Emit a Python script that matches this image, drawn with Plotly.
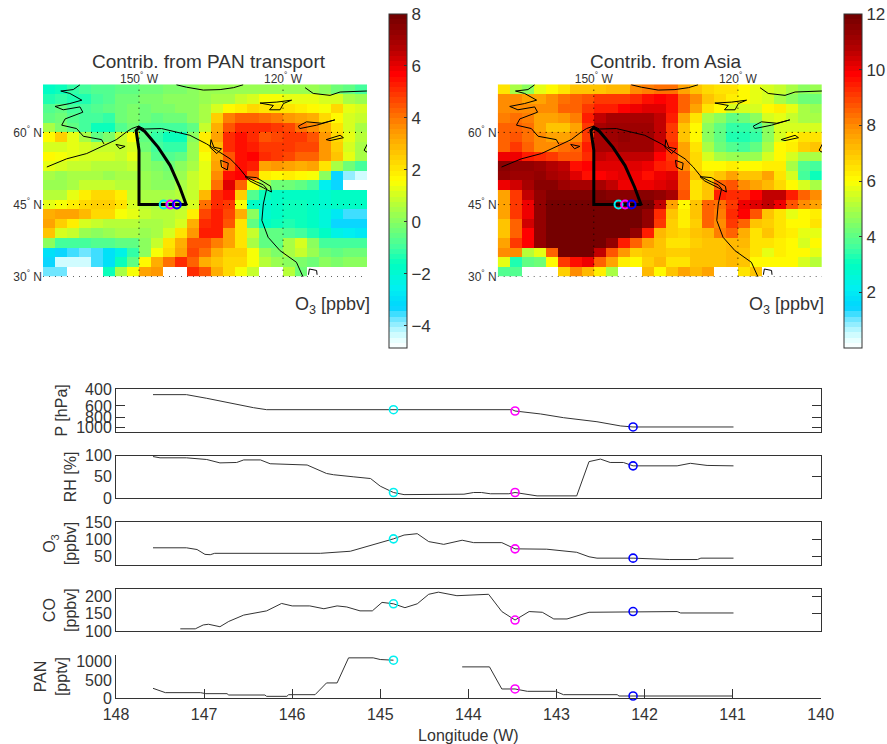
import numpy as np
import plotly.graph_objects as go

W, H = 887, 744
N = None
# ---------- map grids (rows north to south, 2.5 x 2 degree cells) ----------
lon_cells = [-168.75 + 2.5 * i for i in range(27)]
lat_cells = [69 - 2 * i for i in range(20)]
pan_grid = [
 [-1.8,-1.5,-1.2,-1.0,-0.8,-0.8,-0.6,-0.5,-0.4,-0.3,-0.2,-0.1,0,0.2,0.3,0.3,0.3,0.2,0.2,0.2,0.3,0.3,0.2,0,-0.3,-0.6,-0.9],
 [-1.3,-1.2,-1.3,-1.3,-1.0,-0.8,-0.4,-0.3,-0.2,-0.2,0,0,0.1,0.3,0.5,0.5,0.9,1.1,1.4,1.5,1.3,1.2,1.3,1.1,1,0.4,0.2],
 [-0.8,-0.6,-1,-1,-0.8,-0.5,-0.4,-0.2,-0.3,-0.2,-0.1,0,0.1,0.5,1.1,1.7,1.9,2.2,2.1,2.1,2,1.8,1.7,1.5,2.2,1.3,1],
 [-0.5,-0.3,-0.8,-0.9,-1,-1.1,-0.3,-0.1,-0.4,-0.5,-0.3,-0.3,0,0.5,2.5,3.9,4.3,4.3,4.1,3.9,3.5,3.3,3.0,2.2,1.6,1.0,0.8],
 [0.5,-0.2,-0.6,-1.0,-1.5,-1.5,-0.7,-0.4,-1,-1.0,-1,-1,-0.5,0.8,3,4.5,5,5,5,4.8,4.6,4,3.6,3,2,1,0.5],
 [1.6,2.5,1.2,0.5,-0.5,-0.2,0.8,1.5,-0.5,-1.2,-1.5,-1.5,0,1.8,3.3,5,5.5,5,4.5,4.6,4.8,4.8,4.4,3.5,2.3,1.2,0.6],
 [1,1,1.2,1,0.8,0.9,0.9,1.1,-0.3,-1,-1.2,-1.2,0.3,1.8,2.8,5,5.5,5.3,4.8,4.8,4.8,4.7,4.6,3.4,2.5,1,0.5],
 [1.6,1.5,1.2,1,1,1,0.9,1.2,0,-0.7,-0.8,-0.5,0.3,1.5,3,4.5,5.4,5.7,5,4.8,4.6,4.3,4.2,3.5,2.6,1.2,0.5],
 [1.2,1,0.8,0.8,0.7,0.6,0.6,0.8,0.1,-0.2,-0.3,0,0.5,1.3,3.3,4.3,5.4,5.3,3.3,3.5,3.3,3,3.2,2,0.5,-0.3,-1],
 [0.5,0.3,0.5,0.5,0.4,0.3,0.4,0.5,0.3,0,-0.1,0.2,0.8,1.3,3.6,5.5,5.6,4.2,1.8,1.7,1.8,1.6,1.5,0,-3.4,-4,-4.4],
 [0.3,0.3,0.5,0.8,0.8,0.8,0.6,0.7,0.3,0.1,0.1,0.4,0.8,1.3,4,6,4.2,1.5,0.2,-0.3,-0.3,-0.5,-1,-2.6,-3.4,N,N],
 [0.7,0.7,1.2,1.8,2.2,2.2,1.8,0.8,0.4,0.4,0.4,0.6,0.9,2.8,5,5.5,2.5,-0.8,-1.6,-1.7,-1.7,-1.7,-1.8,-1.9,-1.8,-1.8,-1.7],
 [1.3,1.5,1.8,2.2,2.4,2.4,2,1,0.6,0.5,0.5,0.7,1,4,5,4.8,1.5,-1.7,-1.9,-1.7,-1.5,-1.5,-1.7,-1.9,-1.8,-1.8,-1.7],
 [3,3.3,3.2,2.8,2.3,2.2,1.5,1.2,0.8,0.7,0.7,0.9,1.8,4.7,5.2,4.6,3,0,-1.9,-1.8,-1.5,-1.5,-1.8,-2.2,-2.8,-3.5,-3.6],
 [3.2,2.5,1.8,1,0.8,0.6,0.6,0.6,0.5,0.4,0.7,1,3,5,5.2,4.5,2,-0.5,-1.7,-1.5,-1.3,-1.5,-1.7,-2.2,-3.4,-3.3,-3.4],
 [2.6,1,0.8,0.3,0,0.2,0.5,0.5,0.3,0.5,1,2,3.5,5.2,5.3,3.3,2,0.9,-0.5,-0.6,-0.8,-1,-1.4,-1.8,-2.3,-2.6,-2.8],
 [0,-1,-1,-1,-0.8,-0.8,-0.5,-0.5,0,0.8,2,3,4.4,4.4,3.8,3.2,2,0.5,-0.5,-0.5,0.5,1,0,-1,-1,-1,-1],
 [-3,-3.3,-3.5,-3.8,-3.6,-3,-2.3,-1.2,0,1.5,2.2,3.2,4.6,4,3,2.5,2.5,1.4,0.2,-0.2,0.4,0.9,0.3,-0.4,-0.6,-0.3,-0.3],
 [-3.4,-4.3,-4.3,-4.3,-3.6,-3,-1.5,-0.5,1.7,3,4,5,4.2,3,2.6,2.2,2.2,1.5,0.6,0.2,0.1,-0.1,-0.3,0,-0.2,0,0],
 [-3.7,-3.7,N,N,N,-1.5,0.5,1.5,3.2,3.5,N,N,5,4.5,3,2.3,1.4,0.8,N,N,0.6,-0.3,N,N,N,N,N],
]
asia_grid = [
 [6.5,5,4.6,5.8,6,6.5,7,7,7,7.2,7.2,8,8.2,8.3,8.3,7.5,7,6.7,6.5,6.4,6,5.8,5.5,5.3,5,4.6,4.8],
 [8,8,7.5,7.5,8,8.4,8.5,8.8,9,9,9,9.3,9.6,9.8,9.6,8.5,8,7,6.7,6.3,6,5.8,5.5,5,4.5,4.2,4.3],
 [8,8,8,8,8,8.5,8.5,9,9.5,9.5,9.8,10,10.3,10.2,9.6,8.5,7.5,6.5,6,5.5,5.5,5.5,6,6.3,5.8,5,4.8],
 [8.2,8.4,8.2,7.5,7.5,7.8,8.2,9.5,10.6,11,11,11,11,10.5,9.5,7.5,6.5,5,4.5,4,4.2,4.5,5.5,5.8,5.3,5,5],
 [8.5,8.6,8.4,7.5,7,7,7.5,9,11,11.2,11.2,11.2,11.1,10.6,9,7,6,4.5,4,3.5,3.5,3.6,4.5,5.5,5.5,5.5,5.5],
 [8.5,8.8,8.4,8,7.5,7.5,8,9,11,11.2,11.3,11.2,11.2,10.6,9,7,6,4.5,4,3.3,3.2,3.5,4.5,5.5,6,6.5,6.5],
 [8.5,9,8.5,8,8,8.3,8.5,9.5,11,11,11.2,11.1,11.1,10.4,9.3,7.5,6.5,5,4.2,3.8,3.7,4,5,6,6.2,6.8,7],
 [10,10,9.5,9.3,9,8.7,8.7,9.3,10.5,10.4,10.6,10.5,10.5,9.8,9,7.5,6.7,5.5,5,4.8,4.7,4.8,5.5,6,5.5,5,5],
 [11.5,11.4,11.3,11.2,10.7,10.5,9.6,9.8,10.3,10.3,10.3,10.3,10,9.5,9.2,8,6.7,6,6,6.2,6,6,6.3,6.2,5,3.8,3.6],
 [11.3,11.2,11.2,11.4,11,10.8,10.2,9.6,9.8,10,10.3,10,9.7,10,10.2,8.5,7,6.6,7,7.5,7,7,7.5,6.5,5.5,3.6,3],
 [10,10.4,11,11.6,11.5,11.2,11,11,11,10.5,10,10,10,10.2,10.4,8.5,6.5,7,8.5,8.7,8,7.5,7.3,6.6,6,5.5,5],
 [7.5,9,10.5,11.4,11.8,11.8,11.8,11.8,11.7,11.6,11.6,11.6,11.6,11.4,11,8.8,6.5,7,9.5,9.2,9.2,9.8,10.5,10.5,9.5,8.5,8],
 [7.5,9,10,11.3,12,12,12,12,12,12,12,12,12,10.5,7.5,6,7,8.5,8.3,9,10,10.3,10.6,10,8.8,8,7.5],
 [7.5,9,10,11.4,12,12,12,12,12,12,12,12,11.4,9.2,7,6.3,7,8.5,8.2,9.2,9.8,8.8,7,6.5,5.8,6,6.2],
 [7,8.5,10.4,11.3,12,12,12,12,12,12,12,12,11.4,9,6.8,6.3,6.8,8.5,8,9,8.5,7,6.8,6.5,6,6,6.5],
 [7,8.5,9.8,11.4,12,12,12,12,12,12,12,11.4,9.5,7.2,6.8,6.6,7,7.2,8.2,8.6,7.4,6.5,7,6.5,6.3,5.8,5.8],
 [7.5,9,9.9,11.3,12,12,12,12,12,11.3,9.5,8.5,7.5,7,6.5,6.5,6.8,7,7,7.3,7.3,6.5,6.5,6.3,6,5.5,6],
 [8,8,5.2,5.8,8.5,12,12,12,10.5,8.8,7.8,6.8,7,7,6.8,6.8,7,7,7,7.3,7,6.5,5.8,6.3,6,6,5.8],
 [5.8,3.2,4,4.3,6,9,9.6,10,8.5,7.5,6.3,6,6.8,7.2,6.5,6.5,7,7,7,7.2,7,6,6,6,6,5.5,5.2],
 [3.8,3.8,N,N,N,6.8,8,7.3,6.2,5,N,N,7.2,6,7,7.5,7.2,7.5,N,N,6.5,7,N,N,N,N,N],
]
# ---------- coastlines (lon, lat) ----------
coast_lon = [-142.2,-140.1,-136.6,-133.1,-130.3,-128.3,N,
 -115.4,-113.7,-110.2,-108.1,-102.6,-100.8,N,
 -162.3,-163.7,-166.3,-164.4,-161.9,-164.4,-167.5,-165.8,-162.3,-161.7,-165.4,-166.1,-163,-161.6,-157.8,-157.3,N,
 -169.2,-167.2,-165.1,-160.9,-157.1,-154.7,-152.6,-151.5,-150.1,-148.8,-145.3,-142.2,-139.4,-135.9,-133.8,-131,-129.3,-127.6,-125.5,-124.1,-123.4,-124.1,-124.4,-123.1,-120.6,-117.2,-115.8,N,
 -127.9,-125.5,-122.6,-122.4,-124.1,-126.9,-127.9,N,
 -133,-131.4,-131.6,-132.8,-133,N,
 -135,-134.4,-132.8,-133.8,-135.2,-135,N,
 -154.8,-152.9,-154,-154.8,N,
 -124.8,-121.3,-118.2,-119.9,-120.6,-122.8,-122,-124.8,N,
 -116.8,-115.1,-111.9,-109.2,-113,-116.5,-116.8,N,
 -111,-108.1,-107.4,-110.2,-111,N,
 -103.1,-102.2,-101.5,-102.6,-103.1,N,
 -101.2,-100.1,-100.5,N,
 -114.7,-114.5,-113,-112.9]
coast_lat = [69.9,69.4,68.8,68.9,69.3,69.9,N,
 69.3,68.1,67.7,68.4,68.6,69.6,N,
 69.9,68.9,68.6,68.1,66.7,66,65.4,64.7,65.3,64.2,62.8,61.5,60.8,59.2,58.5,57.6,N,
 52.8,53.6,54.5,55.6,57.3,58.5,60.1,60.8,61.3,60.7,60.8,60.1,59.4,57.6,56.3,54.5,52.8,50.7,49.7,49.1,48.3,45.1,41.7,38.2,35.4,33,29.9,N,
 50.8,50.6,48.8,47.6,48.5,49.9,50.8,N,
 54.2,53.6,52.2,52.8,54.2,N,
 58.5,56.9,56.6,55.6,56.9,58.5,N,
 57.5,57.1,56.6,57.5,N,
 66.1,66.3,66.7,66,64.7,64.7,65.6,66.1,N,
 61.3,62.2,61.9,62.6,61.5,60.8,61.3,N,
 58.5,59.4,58.9,58.3,58.5,N,
 56.3,58,57.6,55.9,56.3,N,
 52.8,52.6,51.7,N,
 30.4,31.6,31.3,30.4]
track_lon = [-140.1,-141.5,-143.5,-146,-148.8,-150,-150.6,-150,-150,-145.07,-140.1]
track_lat = [44.8,48.6,53.1,56.9,60.2,61,60.4,56.3,45,45,45]
map_lon_ticks = [-150, -120]
map_lon_text = ["150<sup>°</sup> W", "120<sup>°</sup> W"]
map_lat_ticks = [30, 45, 60]
map_lat_text = ["30<sup>°</sup> N", "45<sup>°</sup> N", "60<sup>°</sup> N"]
# ---------- flight samples ----------
sample_lon = [144.85, 143.47, 142.13]
sample_lat = [45, 45, 45]
sample_colors = ["#00f0f0", "#ff00ff", "#0000ff"]
sample_P = [657, 678, 995]
sample_RH = [13, 13, 76]
sample_O3 = [102, 73, 46]
sample_CO = [178, 132, 156]
sample_PAN = [1046, 250, 55]
# ---------- flight series ----------
P_lon = [147.58,147.2,146.97,146.7,146.44,146.29,143.5,143.47,143.18,142.92,142.54,142.27,142.13,140.99]
P_val = [458,458,500,564,626,657,657,678,728,796,877,971,995,995]
RH_lon = [147.58,147.5,147.2,146.97,146.82,146.63,146.55,146.36,146.25,145.83,145.61,145.53,145.3,145.11,145,144.85,144.73,144.05,143.94,143.85,143.75,143.54,143.47,143.22,142.77,142.63,142.5,142.39,142.24,142.13,141.63,141.48,141.29,140.99]
RH_val = [98,95,95,91,83,84,90,90,81,78,58,55,50,46,28,13,8,9,13,13,10,10,13,5,5,86,92,84,84,76,76,82,77,76]
O3_lon = [147.58,147.2,147.08,146.99,146.93,146.88,145.68,145.45,145.34,144.85,144.73,144.58,144.45,144.32,144.28,144.07,143.94,143.62,143.47,143.11,142.77,142.63,142.54,142.13,141.72,141.4,141.36,140.99]
O3_val = [76,76,71,57,56,60,60,63,66,102,113,117,94,88,86,98,91,91,73,72,63,50,46,46,42,42,46,46]
CO_lon = [147.27,147.1,147.01,146.95,146.82,146.72,146.55,146.44,146.29,146.12,146,145.8,145.64,145.49,145.38,145.23,145.09,144.98,144.85,144.72,144.58,144.45,144.34,144.13,143.77,143.62,143.47,143.31,143.16,143.03,142.88,142.63,142.13,141.63,141.59,140.99]
CO_val = [107,107,118,120,113,128,146,151,158,179,172,172,164,172,169,158,158,182,178,167,178,205,211,201,205,156,132,156,154,135,135,154,156,156,152,152]
PAN_lon = [147.58,147.44,147.04,146.98,146.74,146.72,146.31,146.29,146.06,146.04,145.74,145.61,145.49,145.36,145.08,145,144.85,N,144.07,143.76,143.62,143.47,143.33,143.01,142.92,142.31,142.29,142.13,141.7,141]
PAN_val = [268,148,148,120,120,83,83,46,46,92,92,417,417,1111,1111,1065,1046,N,861,861,250,250,185,185,92,92,55,55,55,55]

px = lambda p: p / W
py = lambda p: 1 - p / H
INK = "#333333"
FONT = "Liberation Sans, Arial, sans-serif"

stops = [(0, "#ffffff"), (.03, "#e0ffff"), (.06, "#aaf4ff"), (.09, "#66e4ff"), (.12, "#00d4ff"), (.18, "#00f0f0"),
         (.25, "#00ffc0"), (.30, "#40ffa0"), (.38, "#88ff60"), (.44, "#c0ff30"), (.5, "#ffff00"), (.58, "#ffc800"),
         (.66, "#ff9000"), (.74, "#ff4800"), (.82, "#ff0000"), (.9, "#b00000"), (1, "#700000")]
def rgb(h): return [int(h[i:i+2], 16) for i in (1, 3, 5)]
ts = [s[0] for s in stops]; cs = np.array([rgb(s[1]) for s in stops])
levels = 64
scale = []
for i in range(levels):
    t = (i + .5) / levels
    c = [int(round(np.interp(t, ts, cs[:, k]))) for k in range(3)]
    col = f"rgb({c[0]},{c[1]},{c[2]})"
    scale += [[i / levels, col], [(i + 1) / levels, col]]

fig = go.Figure()
layout = dict(width=W, height=H, autosize=False, margin=dict(l=0, r=0, t=0, b=0, pad=0, autoexpand=False),
              paper_bgcolor="white", plot_bgcolor="white",
              showlegend=False, font=dict(family=FONT, color=INK, size=16), annotations=[])

def add_map(n, grid, left, right, zmin, zmax, cb_left, cb_ticks, title, title_x, cap_x):
    xa, ya = f"x{n}", f"y{n}"
    fig.add_trace(go.Heatmap(x=lon_cells, y=lat_cells, z=grid, xaxis=xa, yaxis=ya, zmin=zmin, zmax=zmax,
        colorscale=scale, hoverongaps=False,
        colorbar=dict(x=px(cb_left), xanchor="left", xpad=0, y=py(14), yanchor="top", ypad=0, len=334, lenmode="pixels",
                      thickness=18, thicknessmode="pixels", outlinecolor=INK, outlinewidth=1, tickvals=cb_ticks,
                      ticks="inside", ticklen=3, tickcolor=INK, tickfont=dict(size=17, color=INK, family=FONT))))
    for lat in map_lat_ticks:
        fig.add_trace(go.Scatter(x=[-170, -102.5], y=[lat, lat], xaxis=xa, yaxis=ya, mode="lines", cliponaxis=False,
                                 line=dict(color="black", width=1, dash="1px,5px"), hoverinfo="skip"))
    for lon in map_lon_ticks:
        fig.add_trace(go.Scatter(x=[lon, lon], y=[30, 70], xaxis=xa, yaxis=ya, mode="lines", cliponaxis=False,
                                 line=dict(color="black", width=1, dash="1px,5px"), hoverinfo="skip"))
    fig.add_trace(go.Scatter(x=coast_lon, y=coast_lat, xaxis=xa, yaxis=ya, mode="lines", cliponaxis=False,
                             line=dict(color="black", width=1), hoverinfo="skip"))
    fig.add_trace(go.Scatter(x=track_lon, y=track_lat, xaxis=xa, yaxis=ya, mode="lines",
                             line=dict(color="black", width=3), hoverinfo="skip"))
    fig.add_trace(go.Scatter(x=[-v for v in sample_lon], y=sample_lat, xaxis=xa, yaxis=ya, mode="markers",
                             marker=dict(symbol="circle-open", size=8, color=sample_colors, line=dict(width=2)), hoverinfo="skip"))
    suffix = "" if n == 1 else str(n)
    layout["xaxis" + suffix] = dict(domain=[px(left), px(right)], range=[-170, -102.5], side="top", tickvals=map_lon_ticks,
                                    ticktext=map_lon_text, showgrid=False, zeroline=False, showline=False, ticks="",
                                    tickfont=dict(size=12, color=INK), anchor=ya, ticklabelstandoff=-2)
    layout["yaxis" + suffix] = dict(domain=[py(276.7), py(84.3)], range=[30, 70], tickvals=map_lat_ticks,
                                    ticktext=map_lat_text, showgrid=False, zeroline=False, showline=False, ticks="",
                                    tickfont=dict(size=12, color=INK), anchor=xa)
    layout["annotations"].append(dict(x=px(title_x), y=py(61), xref="paper", yref="paper", text=title, showarrow=False,
                                      font=dict(size=19, color=INK), xanchor="center", yanchor="middle"))
    layout["annotations"].append(dict(x=px(cap_x), y=py(305), xref="paper", yref="paper", text="O<sub>3</sub> [ppbv]", showarrow=False,
                                      font=dict(size=18, color=INK), xanchor="right", yanchor="middle"))

add_map(1, pan_grid, 43, 367, -4.85, 8, 388.5, [-4, -2, 0, 2, 4, 6, 8], "Contrib. from PAN transport", 209, 372)
add_map(2, asia_grid, 497.7, 822, 0, 12, 843.5, [2, 4, 6, 8, 10, 12], "Contrib. from Asia", 665, 826)

X_RANGE = [148, 140]
def add_series(n, lon, val, smp, top, bottom, yrange, ticks, title, right_ticks=True, ytype="linear", box=True):
    xa, ya = f"x{n}", f"y{n}"
    fig.add_trace(go.Scatter(x=lon, y=val, xaxis=xa, yaxis=ya, mode="lines", connectgaps=False,
                             line=dict(color=INK, width=1), hoverinfo="skip"))
    fig.add_trace(go.Scatter(x=sample_lon, y=smp, xaxis=xa, yaxis=ya, mode="markers", cliponaxis=False,
                             marker=dict(symbol="circle-open", size=8, color=sample_colors, line=dict(width=1.6)), hoverinfo="skip"))
    last = n == 7
    layout[f"xaxis{n}"] = dict(domain=[px(116), px(820.7)], range=X_RANGE, anchor=ya, showgrid=False, zeroline=False,
                               showline=True, linecolor=INK, linewidth=1, mirror=box,
                               tickvals=[148, 147, 146, 145, 144, 143, 142, 141, 140] if last else [],
                               ticks="inside" if last else "", ticklen=9, tickcolor=INK,
                               showticklabels=last, tickfont=dict(size=16, color=INK))
    if last:
        layout[f"xaxis{n}"]["ticklabelstandoff"] = 2
        layout[f"xaxis{n}"]["title"] = dict(text="Longitude (W)", font=dict(size=16, color=INK), standoff=7)
    layout[f"yaxis{n}"] = dict(domain=[py(bottom), py(top)], range=yrange, type=ytype, anchor=xa, showgrid=False, zeroline=False,
                               showline=True, linecolor=INK, linewidth=1, mirror=("ticks" if ytype == "log" else box),
                               tickvals=ticks, ticks="inside" if ytype == "log" else "", ticklen=9, tickcolor=INK,
                               tickfont=dict(size=16, color=INK),
                               title=dict(text=title, font=dict(size=16, color=INK), standoff=4))
    if right_ticks and ytype != "log":
        k = n + 10
        fig.add_trace(go.Scatter(x=[], y=[], xaxis=xa, yaxis=f"y{k}", hoverinfo="skip"))
        layout[f"yaxis{k}"] = dict(overlaying=ya, side="right", anchor=xa, range=yrange, tickvals=ticks, ticks="inside",
                                   ticklen=9, tickcolor=INK, showticklabels=False, showgrid=False, zeroline=False, showline=False)

add_series(3, P_lon, P_val, sample_P, 389, 431.7, [3.047, 2.602], [400, 600, 800, 1000], "P [hPa]", ytype="log")
add_series(4, RH_lon, RH_val, sample_RH, 455.7, 498, [0, 100], [0, 50, 100], "RH [%]")
add_series(5, O3_lon, O3_val, sample_O3, 522.3, 564.7, [27, 150], [50, 100, 150], "O<sub>3</sub><br>[ppbv]")
add_series(6, CO_lon, CO_val, sample_CO, 589, 631.3, [100, 220], [100, 150, 200], "CO<br>[ppbv]")
add_series(7, PAN_lon, PAN_val, sample_PAN, 655, 698, [0, 1190], [0, 500, 1000], "PAN<br>[pptv]", right_ticks=False, box=False)

fig.update_layout(**layout)
fig.write_html("out.html", post_script="document.body.style.margin='0';", config=dict(displayModeBar=False))
